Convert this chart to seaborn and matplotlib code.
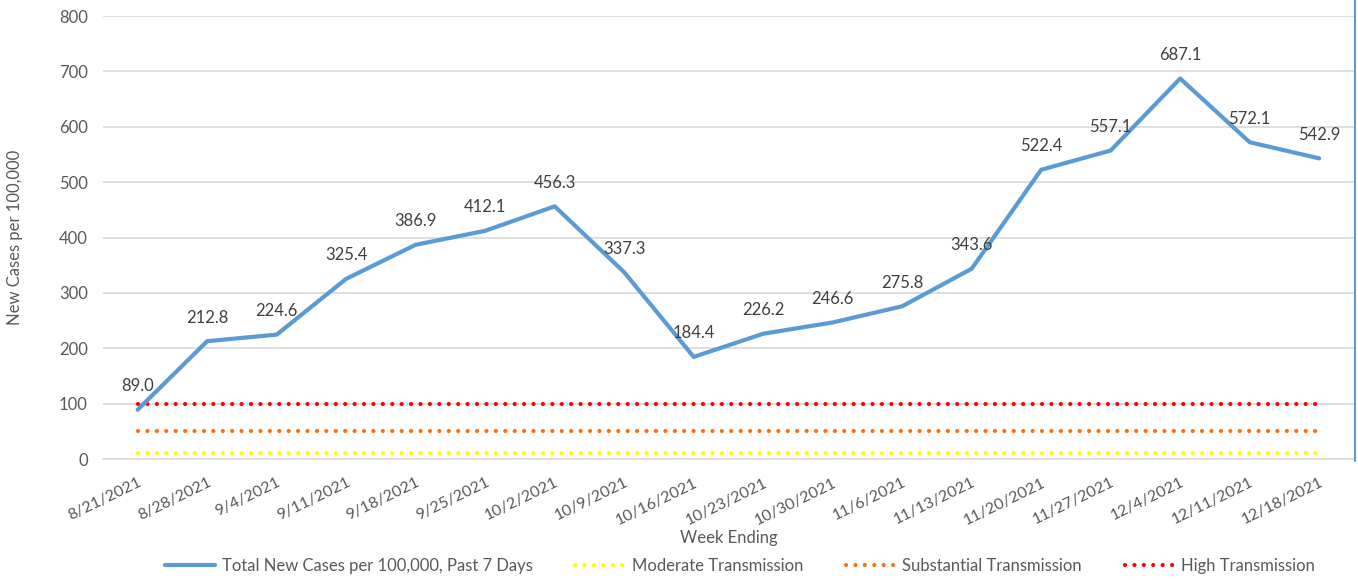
import matplotlib
matplotlib.use("Agg")
import matplotlib.pyplot as plt
from matplotlib.lines import Line2D
import seaborn as sns
import pandas as pd

weeks = ['8/21/2021', '8/28/2021', '9/4/2021', '9/11/2021', '9/18/2021', '9/25/2021',
         '10/2/2021', '10/9/2021', '10/16/2021', '10/23/2021', '10/30/2021', '11/6/2021',
         '11/13/2021', '11/20/2021', '11/27/2021', '12/4/2021', '12/11/2021', '12/18/2021']
cases = [89.0, 212.8, 224.6, 325.4, 386.9, 412.1, 456.3, 337.3, 184.4,
         226.2, 246.6, 275.8, 343.6, 522.4, 557.1, 687.1, 572.1, 542.9]
moderate = 10
substantial = 50
high = 100

df = pd.DataFrame({'week': weeks, 'cases': cases})
df['moderate'] = moderate
df['substantial'] = substantial
df['high'] = high

sns.set_style('white')
plt.rcParams['font.family'] = ['Lato', 'DejaVu Sans']

txt = '#595959'
fs = 12
fig = plt.figure(figsize=(13.58, 5.8), dpi=100)
ax = fig.add_axes([0.0758, 0.2086, 0.9212, 0.7638])

dot = dict(linestyle=(0, (0.01, 2.25)), dash_capstyle='round', linewidth=3)
sns.lineplot(data=df, x='week', y='moderate', color='#FFFF00', ax=ax,
             label='Moderate Transmission', **dot)
sns.lineplot(data=df, x='week', y='substantial', color='#FF6D0D', ax=ax,
             label='Substantial Transmission', **dot)
sns.lineplot(data=df, x='week', y='high', color='#FF0000', ax=ax,
             label='High Transmission', **dot)
sns.lineplot(data=df, x='week', y='cases', color='#5B9BD5', linewidth=3, ax=ax,
             label='Total New Cases per 100,000, Past 7 Days', zorder=5)

for i, v in enumerate(cases):
    ax.annotate(f'{v:.1f}', (i, v), xytext=(0, 17), textcoords='offset points',
                ha='center', va='center', fontsize=fs, color='#404040', zorder=6)

ax.set_xlim(-0.5, len(weeks) - 0.5)
ax.set_ylim(0, 800)
ax.set_yticks(range(0, 801, 100))
ax.grid(axis='y', color='#d9d9d9', linewidth=1.2)
ax.set_axisbelow(True)
for s in ['top', 'right', 'left']:
    ax.spines[s].set_visible(False)
ax.spines['bottom'].set_color('#d9d9d9')
ax.spines['bottom'].set_linewidth(1.2)

ax.set_xticks(range(len(weeks)))
ax.set_xticklabels(weeks, rotation=26, ha='right', rotation_mode='anchor')
ax.set_xticks([i - 0.5 for i in range(len(weeks) + 1)], minor=True)
ax.tick_params(axis='x', which='major', length=0, pad=12, labelsize=11.5, labelcolor=txt)
ax.tick_params(axis='x', which='minor', length=5, color='#d9d9d9', width=1.2)
ax.tick_params(axis='y', length=0, labelsize=fs, labelcolor=txt, pad=11)

ax.set_xlabel('Week Ending', fontsize=fs, color=txt)
ax.xaxis.set_label_coords(0.5, -0.16)
ax.set_ylabel('New Cases per 100,000', fontsize=fs, color=txt)
ax.yaxis.set_label_coords(-0.064, 0.5)

handles, labels = ax.get_legend_handles_labels()
order = [3, 0, 1, 2]
ax.legend([handles[i] for i in order], [labels[i] for i in order],
          loc='center', bbox_to_anchor=(0.545, 0.024), bbox_transform=fig.transFigure,
          ncol=4, frameon=False, fontsize=fs, labelcolor=txt,
          handlelength=3.0, handletextpad=0.4, columnspacing=2.55)

fig.add_artist(Line2D([0.9975, 0.9975], [0.205, 1.0], color='#5B9BD5', linewidth=1.5,
                      transform=fig.transFigure))

fig.savefig('out.png', dpi=100)
